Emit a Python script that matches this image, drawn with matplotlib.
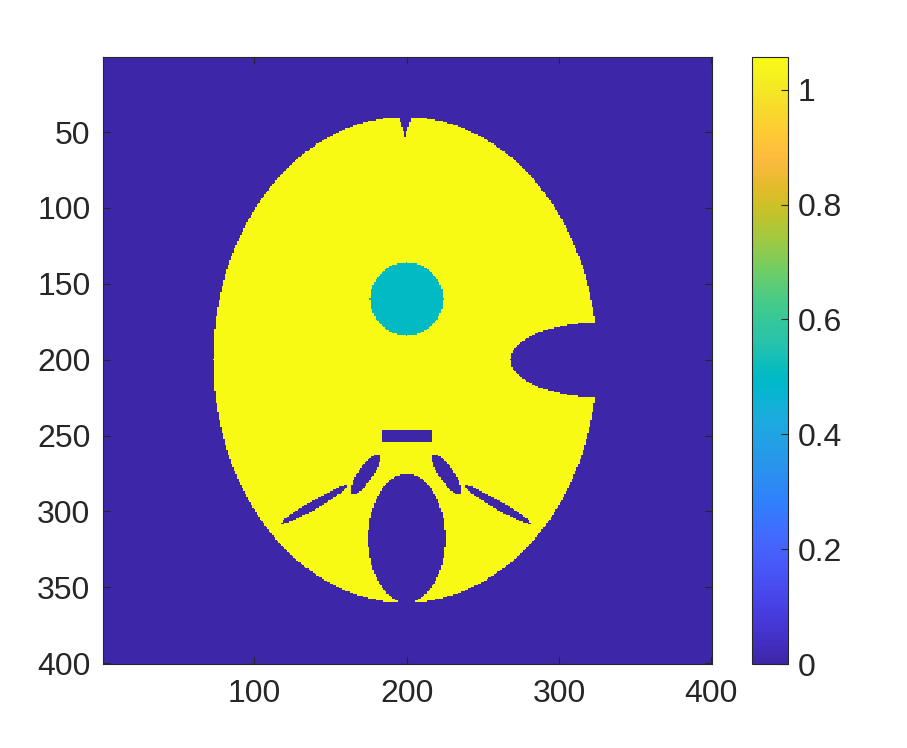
import numpy as np
import matplotlib
matplotlib.use('Agg')
import matplotlib.pyplot as plt
from matplotlib.colors import LinearSegmentedColormap

# parula (MATLAB default colormap), 64 entries
parula_rgb = [
    [0.2422, 0.1504, 0.6603], [0.2504, 0.1650, 0.7076], [0.2578, 0.1818, 0.7511], [0.2647, 0.1978, 0.7952],
    [0.2706, 0.2147, 0.8364], [0.2751, 0.2342, 0.8710], [0.2783, 0.2559, 0.8991], [0.2803, 0.2782, 0.9221],
    [0.2813, 0.3006, 0.9414], [0.2810, 0.3228, 0.9579], [0.2795, 0.3447, 0.9717], [0.2760, 0.3667, 0.9829],
    [0.2699, 0.3892, 0.9906], [0.2602, 0.4123, 0.9952], [0.2440, 0.4358, 0.9988], [0.2206, 0.4603, 0.9973],
    [0.1963, 0.4847, 0.9892], [0.1834, 0.5074, 0.9798], [0.1786, 0.5289, 0.9682], [0.1764, 0.5499, 0.9520],
    [0.1687, 0.5703, 0.9359], [0.1540, 0.5902, 0.9218], [0.1460, 0.6091, 0.9079], [0.1380, 0.6276, 0.8973],
    [0.1248, 0.6459, 0.8883], [0.1113, 0.6635, 0.8763], [0.0952, 0.6798, 0.8598], [0.0689, 0.6948, 0.8394],
    [0.0297, 0.7082, 0.8163], [0.0036, 0.7203, 0.7917], [0.0067, 0.7312, 0.7660], [0.0433, 0.7411, 0.7394],
    [0.0964, 0.7500, 0.7120], [0.1408, 0.7584, 0.6842], [0.1717, 0.7670, 0.6554], [0.1938, 0.7758, 0.6251],
    [0.2161, 0.7843, 0.5923], [0.2470, 0.7918, 0.5567], [0.2906, 0.7973, 0.5188], [0.3406, 0.8008, 0.4789],
    [0.3909, 0.8029, 0.4354], [0.4456, 0.8024, 0.3909], [0.5044, 0.7993, 0.3480], [0.5616, 0.7942, 0.3045],
    [0.6174, 0.7876, 0.2612], [0.6720, 0.7793, 0.2227], [0.7242, 0.7698, 0.1910], [0.7738, 0.7598, 0.1646],
    [0.8203, 0.7498, 0.1535], [0.8634, 0.7406, 0.1596], [0.9035, 0.7330, 0.1774], [0.9393, 0.7288, 0.2100],
    [0.9728, 0.7298, 0.2394], [0.9956, 0.7434, 0.2371], [0.9970, 0.7659, 0.2199], [0.9952, 0.7893, 0.2028],
    [0.9892, 0.8136, 0.1885], [0.9786, 0.8386, 0.1766], [0.9676, 0.8639, 0.1643], [0.9610, 0.8890, 0.1537],
    [0.9597, 0.9135, 0.1423], [0.9628, 0.9373, 0.1265], [0.9691, 0.9606, 0.1064], [0.9769, 0.9839, 0.0805],
]
parula = LinearSegmentedColormap.from_list('parula', parula_rgb, N=256)

N = 400
head_value = 1.057
circle_value = 0.5

# head ellipse: center x, center y, semi axis x, semi axis y
head = (199, 200, 126, 160)
# insert circle
circle = (200, 160, 24)
# dark (zero) ellipses: cx, cy, a, b, angle (deg, y down)
hole_cx = [330, 172.8, 226.2, 139.3, 259.7, 200]
hole_cy = [200, 275.5, 275.5, 295.5, 295.5, 317.7]
hole_a = [62, 15.8, 15.8, 24.8, 24.8, 25.2]
hole_b = [25, 4.8, 4.8, 2.9, 2.9, 42.4]
hole_ang = [0, -56, 56, -30, 30, 0]
# dark rectangle: x0, x1, y0, y1
rect = (183.5, 216, 246.5, 254.5)
# V notch at the top: tip x, tip y, half width at y = 40
notch = (199, 53, 4.2)

X, Y = np.meshgrid(np.arange(1, N + 1), np.arange(1, N + 1))


def in_ellipse(cx, cy, a, b, ang=0):
    t = np.deg2rad(ang)
    u = (X - cx) * np.cos(t) + (Y - cy) * np.sin(t)
    v = -(X - cx) * np.sin(t) + (Y - cy) * np.cos(t)
    return (u / a) ** 2 + (v / b) ** 2 <= 1


img = np.zeros((N, N))
img[in_ellipse(*head)] = head_value
img[in_ellipse(circle[0], circle[1], circle[2], circle[2])] = circle_value
for cx, cy, a, b, ang in zip(hole_cx, hole_cy, hole_a, hole_b, hole_ang):
    img[in_ellipse(cx, cy, a, b, ang)] = 0
img[(X >= rect[0]) & (X <= rect[1]) & (Y >= rect[2]) & (Y <= rect[3])] = 0
nx, ny, nw = notch
img[(Y <= ny) & (np.abs(X - nx) <= nw * (ny - Y) / (ny - 40))] = 0

plt.rcParams['font.family'] = ['Liberation Sans', 'DejaVu Sans']
txt = (0.15, 0.15, 0.15)

fig = plt.figure(figsize=(9.07, 7.48), dpi=100)
ax = fig.add_axes([103 / 907, 84 / 748, 609 / 907, 607 / 748])
im = ax.imshow(img, cmap=parula, vmin=0, vmax=img.max(), extent=(0.5, N + 0.5, N + 0.5, 0.5),
               aspect='auto', interpolation='nearest')
ax.set_xticks([100, 200, 300, 400])
ax.set_yticks([50, 100, 150, 200, 250, 300, 350, 400])
ax.tick_params(direction='in', length=5, width=0.8, top=True, right=True, labelsize=23,
               colors=txt, labelcolor=txt)
ax.tick_params(axis='x', pad=11)
ax.tick_params(axis='y', pad=9)
for s in ax.spines.values():
    s.set_color(txt)
    s.set_linewidth(0.8)

cax = fig.add_axes([752 / 907, 84 / 748, 36 / 907, 607 / 748])
cb = fig.colorbar(im, cax=cax)
cb.set_ticks([0, 0.2, 0.4, 0.6, 0.8, 1])
cb.set_ticklabels(['0', '0.2', '0.4', '0.6', '0.8', '1'])
cax.tick_params(direction='in', length=5, width=0.8, labelsize=23, colors=txt, labelcolor=txt, pad=7)
cb.outline.set_edgecolor(txt)
cb.outline.set_linewidth(0.8)

fig.savefig('out.png', dpi=100)
